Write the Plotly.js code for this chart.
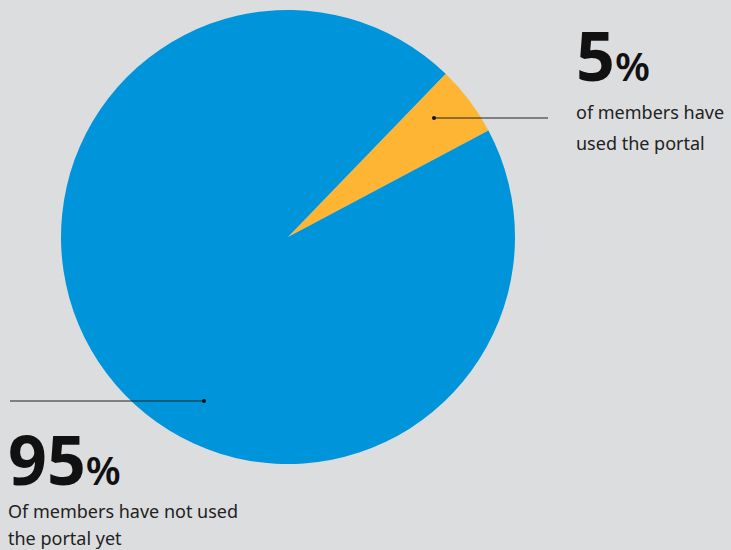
<!DOCTYPE html>
<html>
<head>
<meta charset="utf-8">
<script src="https://cdn.plot.ly/plotly-3.0.1.min.js"></script>
<style>html,body{margin:0;padding:0;background:#dcdddf;}#chart{width:731px;height:550px;}</style>
</head>
<body>
<div id="chart"></div>
<script>
const labels = ["Used the portal", "Have not used the portal"];
const values = [5, 95];
const colors = ["#ffb534", "#0095db"];
const bigLabels = ["5", "95"];
const captionLines = [["of members have", "used the portal"], ["Of members have not used", "the portal yet"]];

const W = 731, H = 550;
const px = x => x / W;
const py = y => 1 - y / H;

const trace = {
  type: "pie",
  labels: labels,
  values: values,
  marker: {colors: colors, line: {width: 0}},
  sort: false,
  direction: "clockwise",
  rotation: 44,
  textinfo: "none",
  hoverinfo: "none",
  showlegend: false,
  domain: {x: [px(61), px(515)], y: [py(464), py(10)]}
};

const font = "Noto Sans, sans-serif";
const capFont = {family: font, size: 18, color: "#222"};
function cap(x, y, t) {
  return {xref: "paper", yref: "paper", x: px(x), y: py(y), xanchor: "left", yanchor: "middle", showarrow: false, text: t, font: capFont};
}
const bigFont = {family: font, size: 68, color: "#111"};
function big(x, y, t) {
  return {xref: "paper", yref: "paper", x: px(x), y: py(y), xanchor: "left", yanchor: "middle", showarrow: false,
    text: "<b>" + t + "</b><span style='font-size:40px;font-weight:600'>%</span>", font: bigFont};
}

const layout = {
  width: W, height: H,
  margin: {l: 0, r: 0, t: 0, b: 0},
  paper_bgcolor: "#dcdddf",
  plot_bgcolor: "#dcdddf",
  showlegend: false,
  shapes: [
    {type: "line", xref: "paper", yref: "paper", x0: px(434), x1: px(548), y0: py(118), y1: py(118), line: {color: "#222", width: 1.2}},
    {type: "circle", xref: "paper", yref: "paper", x0: px(432), x1: px(436), y0: py(116), y1: py(120), fillcolor: "#111", line: {width: 0}},
    {type: "line", xref: "paper", yref: "paper", x0: px(10), x1: px(204), y0: py(401), y1: py(401), line: {color: "#222", width: 1.2}},
    {type: "circle", xref: "paper", yref: "paper", x0: px(202), x1: px(206), y0: py(399), y1: py(403), fillcolor: "#111", line: {width: 0}}
  ],
  annotations: [
    big(574, 55, bigLabels[0]),
    cap(574, 112, captionLines[0][0]),
    cap(574, 143, captionLines[0][1]),
    big(6, 458, bigLabels[1]),
    cap(6, 511, captionLines[1][0]),
    cap(6, 538, captionLines[1][1])
  ]
};

Plotly.newPlot("chart", [trace], layout, {displayModeBar: false, staticPlot: true});
</script>
</body>
</html>
